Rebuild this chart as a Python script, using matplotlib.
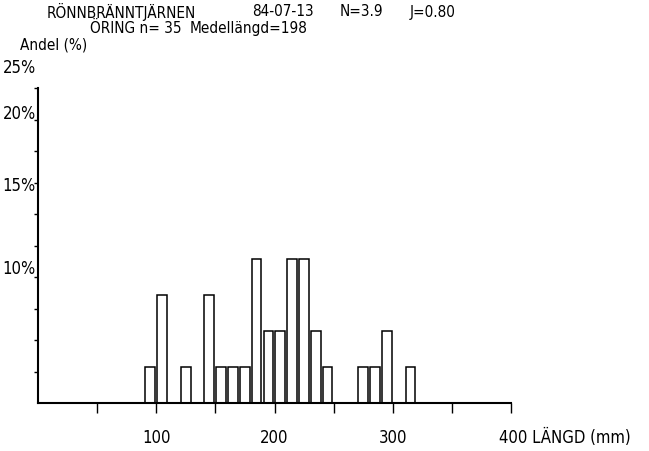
import matplotlib
matplotlib.use("Agg")
import matplotlib.pyplot as plt
from matplotlib import font_manager

# Length distribution of trout (öring) caught in Rönnbränntjärnen
bin_starts = [90, 100, 120, 140, 150, 160, 170, 180, 190, 200,
              210, 220, 230, 240, 270, 280, 290, 310]
counts = [1, 3, 1, 3, 1, 1, 1, 4, 2, 2, 4, 4, 2, 1, 1, 1, 2, 1]
n_fish = sum(counts)
shares = [100.0 * c / n_fish for c in counts]

x_major = [100, 200, 300]
x_ticks = [50, 100, 150, 200, 250, 300, 350, 400]
y_ticks = [2.5 * i for i in range(1, 11)]
y_labels = {10: "10%", 15: "15%", 20: "20%", 25: "25%"}

# Prefer a condensed face for the narrow printer-style lettering
narrow = [f for f in font_manager.fontManager.ttflist
          if ("Narrow" in f.name or "Condensed" in f.name
              or str(f.stretch) in ("condensed", "semi-condensed", "extra-condensed"))]
if narrow:
    family, stretch, fs = narrow[0].name, narrow[0].stretch, 11
else:
    family, stretch, fs = "Liberation Sans", "normal", 10
plt.rcParams["font.family"] = [family, "DejaVu Sans"]
plt.rcParams["font.stretch"] = stretch

fig = plt.figure(figsize=(6.49, 4.51), dpi=100)
ax = fig.add_axes([38 / 649, 48 / 451, 473 / 649, 315 / 451])

ax.bar([b + 0.8 for b in bin_starts], shares, width=8.2, align="edge",
       facecolor="white", edgecolor="black", linewidth=1.1)

ax.set_xlim(0, 400)
ax.set_ylim(0, 25)
for side in ("top", "right"):
    ax.spines[side].set_visible(False)
ax.spines["left"].set_linewidth(1.5)
ax.spines["bottom"].set_linewidth(1.5)

ax.set_xticks(x_ticks)
ax.set_xticklabels([])
ax.tick_params(axis="x", direction="out", length=7, width=1, color="black")
ax.set_yticks(y_ticks)
ax.set_yticklabels([])
ax.tick_params(axis="y", direction="out", length=3, width=1, color="black")

# y-axis percent labels, printed slightly above their ticks
label_shift = {10: 0.6, 15: 2.2, 20: 2.9, 25: 1.6}
for v, lab in y_labels.items():
    ax.text(-2, v + label_shift[v], lab, transform=ax.transData,
            ha="right", va="center", fontsize=fs + 1, clip_on=False)

for v in x_major:
    ax.text(v, -2.8, str(v), ha="center", va="center", fontsize=fs + 1, clip_on=False)
ax.text(390, -2.8, "400 LÄNGD (mm)", ha="left", va="center", fontsize=fs + 1, clip_on=False)

fig.text(47 / 649, 1 - 12 / 451, "RÖNNBRÄNNTJÄRNEN", ha="left", va="center", fontsize=fs)
fig.text(252 / 649, 1 - 12 / 451, "84-07-13", ha="left", va="center", fontsize=fs)
fig.text(340 / 649, 1 - 12 / 451, "N=3.9", ha="left", va="center", fontsize=fs)
fig.text(410 / 649, 1 - 12 / 451, "J=0.80", ha="left", va="center", fontsize=fs)
fig.text(90 / 649, 1 - 28 / 451, f"ÖRING n= {n_fish}", ha="left", va="center", fontsize=fs)
fig.text(190 / 649, 1 - 28 / 451, "Medellängd=198", ha="left", va="center", fontsize=fs)
fig.text(20 / 649, 1 - 45 / 451, "Andel (%)", ha="left", va="center", fontsize=fs)

fig.savefig("out.png", dpi=100, facecolor="white")
